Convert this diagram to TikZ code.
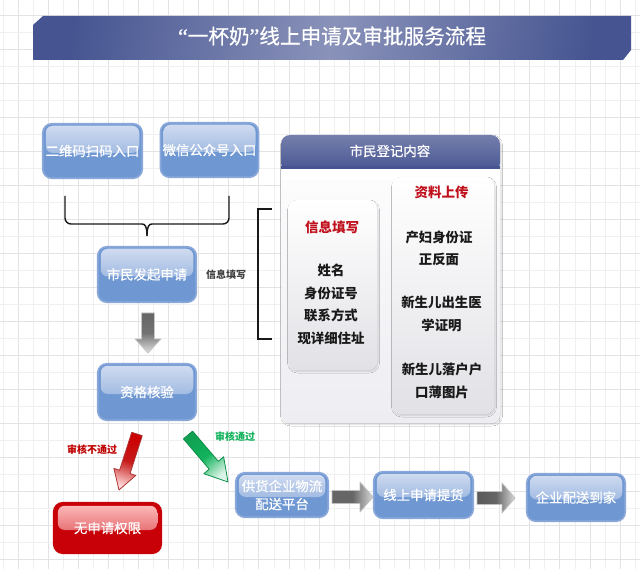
\documentclass[tikz,border=0pt]{standalone}
\usepackage{fontspec}
\setmainfont{Noto Sans CJK SC}
\newfontfamily\quotefont[FakeBold=0.3]{Liberation Serif}
\newfontfamily\midfont[FakeBold=0.5]{Noto Sans CJK SC}
\usetikzlibrary{calc,fadings,shadows.blur}
\definecolor{glossbase}{HTML}{6F97D2}
\definecolor{glossedge}{HTML}{8AA8DA}
\definecolor{glosstop}{HTML}{D2DDF1}
\definecolor{glossbot}{HTML}{7A9FD6}
\definecolor{navy}{HTML}{465591}
\definecolor{navylt}{HTML}{757FAD}
\definecolor{panel}{HTML}{EDEDF2}
\definecolor{redbase}{HTML}{C80008}
\definecolor{headred}{HTML}{C0101C}
\definecolor{passgreen}{HTML}{12B35C}
\tikzset{x=1pt,y=-1pt,
  gridmajor/.style={draw=black!11,line width=.8pt},
  gridminor/.style={draw=black!6,line width=.7pt},
  glossy/.style={rounded corners=9pt,draw=glossedge,line width=1.6pt,fill=glossbase,
    text=white,align=center,inner sep=0pt,font=\midfont\fontsize{13.4}{17}\selectfont,
    path picture={
      \fill[top color=glosstop,bottom color=glossbot,rounded corners=7pt]
        ($(path picture bounding box.north west)+(3pt,-2pt)$) rectangle
        ($(path picture bounding box.east)+(-3pt,-2pt)$);
    }},
  redbox/.style={glossy,draw=redbase,fill=redbase,
    path picture={
      \fill[top color=red!25!white,bottom color=redbase!80!white,rounded corners=7pt]
        ($(path picture bounding box.north west)+(4pt,-3pt)$) rectangle
        ($(path picture bounding box.east)+(-4pt,-2pt)$);
    }},
  panelbox/.style={rounded corners=9pt,fill=panel,
    blur shadow={shadow xshift=1pt,shadow yshift=-1.5pt,shadow blur steps=6,
      shadow blur radius=1.5pt,shadow opacity=16}},
  head/.style={text=headred,font=\fontsize{13.5}{16}\bfseries\selectfont},
  body/.style={text=black!90,align=center,font=\fontsize{13.4}{22.5}\bfseries\selectfont},
  bracket/.style={draw=black!90,line width=1.4pt},
  smalltag/.style={font=\fontsize{10}{12}\bfseries\selectfont},
}
% \fatarrow{from}{to}{half shaft}{half head}{head length}{edge}{start}{mid}{tip}
\newcommand{\fatarrow}[9]{%
  \path let \p1=($(#2)-(#1)$), \n1={atan2(\y1,\x1)}, \n2={veclen(\x1,\y1)} in
    [shift={(#1)},rotate=\n1,x=1pt,y=1pt]
    coordinate (a1) at (0,#3pt) coordinate (a2) at (\n2-#5pt,#3pt)
    coordinate (a3) at (\n2-#5pt,#4pt) coordinate (a4) at (\n2,0)
    coordinate (a5) at (\n2-#5pt,-#4pt) coordinate (a6) at (\n2-#5pt,-#3pt)
    coordinate (a7) at (0,-#3pt) \pgfextra{\pgfmathsetmacro{\faangle}{\n1+90}\global\let\faangle\faangle};
  \shade[left color=#7,right color=#9,middle color=#8,shading angle=\faangle]
    (a1)--(a2)--(a3)--(a4)--(a5)--(a6)--(a7)--cycle;
  \draw[#6,line width=.8pt,line join=round]
    (a1)--(a2)--(a3)--(a4)--(a5)--(a6)--(a7)--cycle;
}
\begin{document}
\begin{tikzpicture}
\useasboundingbox (0,0) rectangle (640,569);
\fill[white] (0,0) rectangle (640,569);
\foreach \k in {0,...,42}{
  \pgfmathsetmacro{\gx}{3+15.05*\k}
  \pgfmathtruncatemacro{\odd}{mod(\k,2)}
  \ifnum\odd=1 \draw[gridmajor] (\gx,0)--(\gx,569);\else \draw[gridminor] (\gx,0)--(\gx,569);\fi
}
\foreach \k in {0,...,33}{
  \pgfmathsetmacro{\gy}{15+17*\k}
  \pgfmathtruncatemacro{\odd}{mod(\k,2)}
  \ifnum\odd=0 \draw[gridmajor] (0,\gy)--(640,\gy);\else \draw[gridminor] (0,\gy)--(640,\gy);\fi
}

% title banner
\shade[left color=navy,right color=navy,middle color=navylt!85!white,shading angle=80]
  (33,60)--(33,25)--(43,16)--(631,16)--(631,50)--(623,60)--cycle;
\node[text=white,font=\midfont\fontsize{20.6}{24}\selectfont] (title) at (332,36)
  {{\quotefont\fontsize{22}{24}\selectfont“}一杯奶{\quotefont\fontsize{22}{24}\selectfont”}线上申请及审批服务流程};

% flow boxes
\node[glossy,minimum width=99.5pt,minimum height=54.5pt] (qr) at (92.5,151) {二维码扫码入口};
\node[glossy,minimum width=98pt,minimum height=54.5pt] (wx) at (209.5,150) {微信公众号入口};
\node[glossy,minimum width=98.5pt,minimum height=55.5pt] (apply) at (147,274.5) {市民发起申请};
\node[glossy,minimum width=98.5pt,minimum height=56.5pt] (check) at (147,392) {资格核验};
\node[redbox,minimum width=107.5pt,minimum height=50.5pt] (deny) at (107.5,528) {无申请权限};
\node[glossy,minimum width=92.5pt,minimum height=44.5pt,font=\midfont\fontsize{13.4}{18}\selectfont] (plat) at (282,495) {供货企业物流\\配送平台};
\node[glossy,minimum width=99.5pt,minimum height=46.5pt] (online) at (423.5,495) {线上申请提货};
\node[glossy,minimum width=98.5pt,minimum height=47.5pt] (home) at (576,497.5) {企业配送到家};

% brace joining the entries to the application box
\coordinate (bl) at (65,196);
\coordinate (br) at (229,196);
\coordinate (bm) at (147,236);
\draw[bracket,rounded corners=6pt] (bl)--(65,224)--(142,224);
\draw[bracket,rounded corners=6pt] (br)--(229,224)--(152,224);
\draw[bracket] (142,224) .. controls (145,224) and (147,226) .. (bm);
\draw[bracket] (152,224) .. controls (149,224) and (147,226) .. (bm);

% bracket to the content panel
\coordinate (ct) at (272,209);
\coordinate (cb) at (272,339);
\draw[bracket] (ct)--(258,209)--(258,339)--(cb);
\node[smalltag,text=black!75] (tag) at (226,275) {信息填写};

% panel
\node[panelbox,top color=white,bottom color=panel,minimum width=219pt,minimum height=288pt] (panelbg) at (390.5,279) {};
\shade[top color=navylt,bottom color=navy,rounded corners=9pt]
  (281,172)--(281,135)--(500,135)--(500,172)--cycle;
\fill[white] (281,169) rectangle (500,173);
\fill[top color=white,bottom color=white!97!panel] (281,169) rectangle (500,180);
\fill[navy] (281,166) rectangle (500,169);
\node[text=white,font=\midfont\fontsize{13.4}{17}\selectfont] (panelhead) at (390,151) {市民登记内容};

\node[panelbox,top color=white,bottom color=panel!95!black,minimum width=89pt,minimum height=170pt] (fillbox) at (332.5,285) {};
\node[panelbox,top color=white,bottom color=panel!95!black,minimum width=102pt,minimum height=237pt] (upbox) at (443,295.5) {};
\node[head] (fillhead) at (332,227) {信息填写};
\node[body] (filltext) at (331,304.5) {姓名\\身份证号\\联系方式\\现详细住址};
\node[head] (uphead) at (441.5,192) {资料上传};
\node[body] (up1) at (439,248.5) {产妇身份证\\正反面};
\node[body] (up2) at (441.5,314) {新生儿出生医\\学证明};
\node[body] (up3) at (442,381) {新生儿落户户\\口薄图片};

% block arrows
\coordinate (g1a) at (148,313); \coordinate (g1b) at (148,353);
\fatarrow{g1a}{g1b}{6.5}{13}{14}{black!22}{black!60}{black!55}{black!12}
\coordinate (g2a) at (332,497); \coordinate (g2b) at (373,497);
\fatarrow{g2a}{g2b}{6.5}{15}{13}{black!25}{black!60}{black!60}{black!15}
\coordinate (g3a) at (477,498); \coordinate (g3b) at (515,498);
\fatarrow{g3a}{g3b}{6.5}{15}{13}{black!25}{black!65}{black!60}{black!15}
\coordinate (ra) at (137,434); \coordinate (rb) at (119,490);
\fatarrow{ra}{rb}{5.5}{11.5}{19}{red!60!black!80}{red!80!black}{red!75!black!90}{red!15!white}
\coordinate (ga) at (188,435); \coordinate (gb) at (228,482);
\fatarrow{ga}{gb}{6}{13}{22}{passgreen!80!black}{passgreen!90!black}{passgreen}{passgreen!15!white}

\node[smalltag,text=red!75!black] (nopass) at (92,450) {审核不通过};
\node[smalltag,text=passgreen] (pass) at (235,437) {审核通过};
\end{tikzpicture}
\end{document}
